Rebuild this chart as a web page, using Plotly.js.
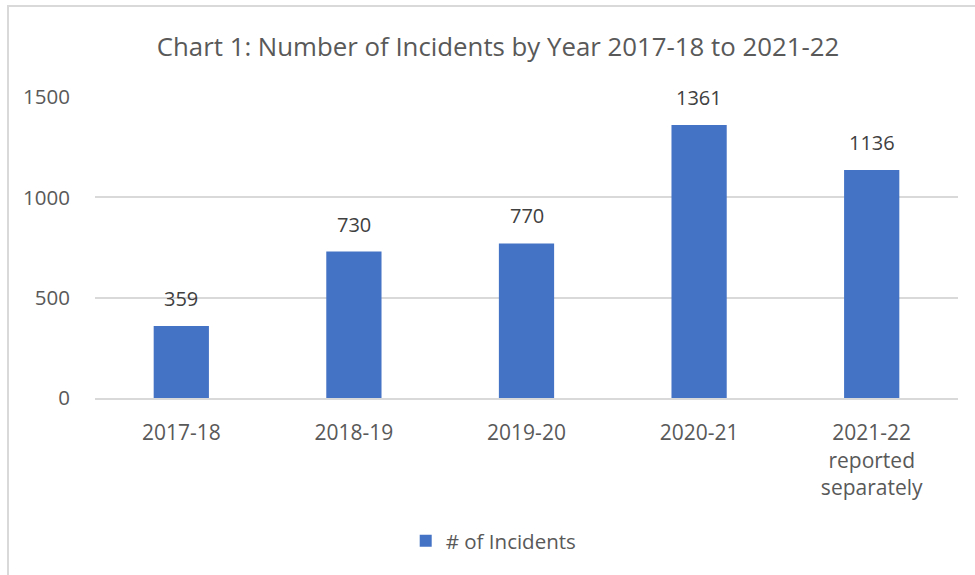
<!DOCTYPE html>
<html>
<head>
<meta charset="utf-8">
<script src="https://cdn.plot.ly/plotly-3.0.1.min.js"></script>
<style>
  html, body { margin: 0; padding: 0; background: #fff; }
  #frame { position: absolute; left: 7px; top: 5px; width: 975px; height: 600px;
           border-left: 2px solid #d9d9d9; border-top: 2px solid #d9d9d9; box-sizing: border-box; pointer-events: none; z-index: 5; }
  #chart { position: absolute; left: 0; top: 0; width: 975px; height: 575px; }
</style>
</head>
<body>
<div id="chart"></div>
<div id="frame"></div>
<script>
const categories = ["2017-18", "2018-19", "2019-20", "2020-21", "2021-22<br>reported<br>separately"];
const incidents = [359, 730, 770, 1361, 1136];
const seriesName = "# of Incidents";
const yTicks = [0, 500, 1000, 1500];

const font = "'Open Sans', 'Liberation Sans', sans-serif";

const trace = {
  type: "bar",
  x: categories,
  y: incidents,
  name: seriesName,
  marker: { color: "#4472C4" },
  showlegend: true,
  hoverinfo: "skip"
};

const annotations = categories.map((c, i) => ({
  x: c, y: incidents[i], xref: "x", yref: "y",
  text: String(incidents[i]), showarrow: false,
  yanchor: "bottom", yshift: 12,
  font: { family: font, size: 20, color: "#404040" }
}));

const layout = {
  width: 975, height: 575,
  margin: { l: 95, r: 17, t: 97, b: 177 },
  paper_bgcolor: "#fff", plot_bgcolor: "#fff",
  font: { family: font, color: "#595959" },
  title: {
    text: "Chart 1: Number of Incidents by Year 2017-18 to 2021-22",
    font: { family: font, size: 25.8, color: "#595959" },
    x: 498 / 975, xref: "container", xanchor: "center",
    y: 1 - 47 / 575, yref: "container", yanchor: "middle"
  },
  xaxis: {
    type: "category",
    tickfont: { family: font, size: 21, color: "#595959" },
    ticks: "outside", ticklen: 15, tickcolor: "rgba(0,0,0,0)",
    showline: true, linecolor: "#d9d9d9", linewidth: 2,
    showgrid: false
  },
  yaxis: {
    range: [0, 1500],
    tickvals: yTicks,
    ticktext: yTicks.map(String),
    tickfont: { family: font, size: 20.5, color: "#595959" },
    ticks: "outside", ticklen: 20, tickcolor: "rgba(0,0,0,0)",
    showgrid: true, gridcolor: "#d9d9d9", gridwidth: 2,
    zeroline: false, showline: false
  },
  bargap: 0.68,
  showlegend: true,
  legend: {
    orientation: "h", x: 0.462, xanchor: "center", y: -0.475, yanchor: "middle",
    font: { family: font, size: 20.5, color: "#595959" },
    itemwidth: 30
  },
  annotations: annotations
};

Plotly.newPlot("chart", [trace], layout, { displayModeBar: false, staticPlot: true });
</script>
</body>
</html>
